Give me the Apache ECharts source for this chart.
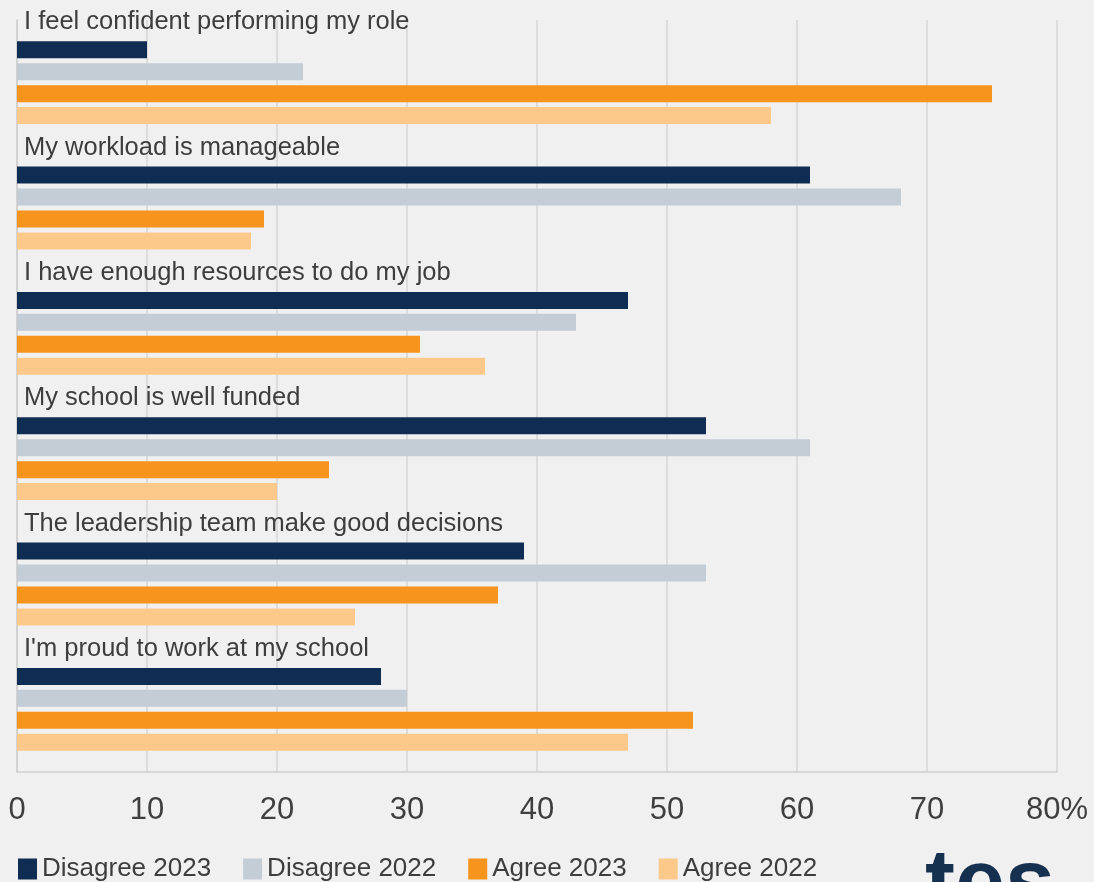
<!DOCTYPE html>
<html>
<head>
<meta charset="utf-8">
<script src="https://cdn.jsdelivr.net/npm/echarts@6/dist/echarts.min.js"></script>
<style>
html,body{margin:0;padding:0;background:#f1f0f1;}
#chart{width:1094px;height:882px;}
</style>
</head>
<body>
<div id="chart"></div>
<script>
const categories = [
  "I feel confident performing my role",
  "My workload is manageable",
  "I have enough resources to do my job",
  "My school is well funded",
  "The leadership team make good decisions",
  "I'm proud to work at my school"
];
const disagree2023 = [10, 61, 47, 53, 39, 28];
const disagree2022 = [22, 68, 43, 61, 53, 30];
const agree2023 = [75, 19, 31, 24, 37, 52];
const agree2022 = [58, 18, 36, 20, 26, 47];
const seriesNames = ["Disagree 2023", "Disagree 2022", "Agree 2023", "Agree 2022"];
const xTicks = [0, 10, 20, 30, 40, 50, 60, 70, 80];

const FONT = "'Liberation Sans', Arial, sans-serif";
const colors = ["#0f2d52", "#c4cdd6", "#f7941d", "#fdc98a"];
const dataSets = [disagree2023, disagree2022, agree2023, agree2022];

const chart = echarts.init(document.getElementById('chart'), null, {renderer: 'canvas'});
const series = dataSets.map((d, i) => {
  const s = {
    name: seriesNames[i],
    type: 'bar',
    data: d,
    barWidth: 17,
    barGap: '29%',
    itemStyle: {color: colors[i]},
    emphasis: {disabled: true},
    animation: false
  };
  if (i === 0) {
    s.label = {
      show: true,
      position: [7, -19],
      align: 'left',
      verticalAlign: 'middle',
      formatter: '{b}',
      fontFamily: FONT,
      fontSize: 25.5,
      color: '#3d3d3d'
    };
  }
  return s;
});

chart.setOption({
  backgroundColor: '#f1f0f1',
  animation: false,
  textStyle: {fontFamily: FONT},
  grid: {left: 17, right: 37, top: 20, bottom: 110, containLabel: false},
  xAxis: {
    type: 'value',
    min: xTicks[0],
    max: xTicks[xTicks.length - 1],
    interval: 10,
    axisLine: {show: true, lineStyle: {color: '#cfcfcf', width: 1.5}},
    axisTick: {show: false},
    splitLine: {show: true, lineStyle: {color: '#d6d6d6', width: 1.5}},
    axisLabel: {
      fontFamily: FONT,
      fontSize: 31,
      color: '#3f3f3f',
      margin: 23,
      formatter: v => v === 80 ? '80%' : String(v)
    }
  },
  yAxis: {
    type: 'category',
    data: categories,
    inverse: true,
    axisLine: {show: true, lineStyle: {color: '#cfcfcf', width: 1.5}},
    axisTick: {show: false},
    axisLabel: {show: false},
    splitLine: {show: false}
  },
  legend: {
    data: seriesNames,
    left: 13,
    top: 851,
    icon: 'rect',
    itemWidth: 19,
    itemHeight: 21,
    itemGap: 32,
    textStyle: {fontFamily: FONT, fontSize: 26, color: '#3d3d3d'}
  },
  graphic: [{
    type: 'text',
    left: 925,
    top: 842,
    silent: true,
    style: {
      text: 'tes',
      fontFamily: FONT,
      fontWeight: 'bold',
      fontSize: 90,
      fill: '#16304f'
    }
  }],
  series: series
});
</script>
</body>
</html>
